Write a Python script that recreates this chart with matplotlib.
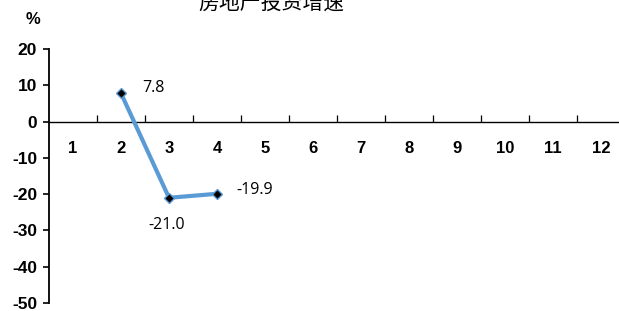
import matplotlib
matplotlib.use("Agg")
import matplotlib.pyplot as plt
from matplotlib.ticker import FixedLocator

plt.rcParams["font.family"] = ["Liberation Sans", "DejaVu Sans"]

TITLE = "房地产投资增速"
months = list(range(1, 13))
data_months = [2, 3, 4]
growth = [7.8, -21.0, -19.9]
label_text = ["7.8", "-21.0", "-19.9"]
y_ticks = [20, 10, 0, -10, -20, -30, -40, -50]

LINE_COLOR = "#5B9BD5"

fig = plt.figure(figsize=(6.19, 3.11), dpi=100)
ax = fig.add_axes([49 / 619, 1 - 303 / 311, 1 - 49 / 619, (303 - 49) / 311])

ax.plot(data_months, growth, color=LINE_COLOR, linewidth=3, marker="D",
        markersize=5.5, markerfacecolor="black", markeredgecolor=LINE_COLOR,
        markeredgewidth=1, solid_capstyle="round", zorder=3)

# data labels
offsets = [(15, 4, "left", "center"), (-2, -19.5, "center", "center"), (14, 2.5, "left", "center")]
for xm, yv, txt, (dx, dy, ha, va) in zip(data_months, growth, label_text, offsets):
    ax.annotate(txt, (xm, yv), xytext=(dx, dy), textcoords="offset points",
                ha=ha, va=va, fontsize=11.5, family=["Open Sans", "DejaVu Sans"])

ax.set_xlim(0.5, 0.5 + 570 / 48)
ax.set_ylim(-50, 20)

ax.spines["top"].set_visible(False)
ax.spines["right"].set_visible(False)
ax.spines["bottom"].set_position(("data", 0))
ax.spines["bottom"].set_linewidth(1.0)
ax.spines["left"].set_linewidth(1.3)

ax.set_xticks(months)
ax.set_xticklabels([str(m) for m in months], fontsize=12, fontweight="bold")
ax.xaxis.set_minor_locator(FixedLocator([m + 0.5 for m in months[:-1]]))
ax.tick_params(axis="x", which="major", length=0, pad=14)
ax.tick_params(axis="x", which="minor", direction="in", length=5, width=0.9)

ax.set_yticks(y_ticks)
ax.set_yticklabels([str(v) for v in y_ticks], fontsize=12.5, fontweight="bold")
ax.tick_params(axis="y", direction="out", length=4.5, width=1.2, pad=4)

fig.text(33 / 619, 1 - 19 / 311, "%", ha="center", va="center",
         fontsize=12, fontweight="bold")
fig.text(271 / 619, 1 - 2.5 / 311, TITLE, ha="center", va="center",
         fontsize=15, family=["Noto Sans CJK SC", "DejaVu Sans"])

fig.savefig("out.png", dpi=100)
